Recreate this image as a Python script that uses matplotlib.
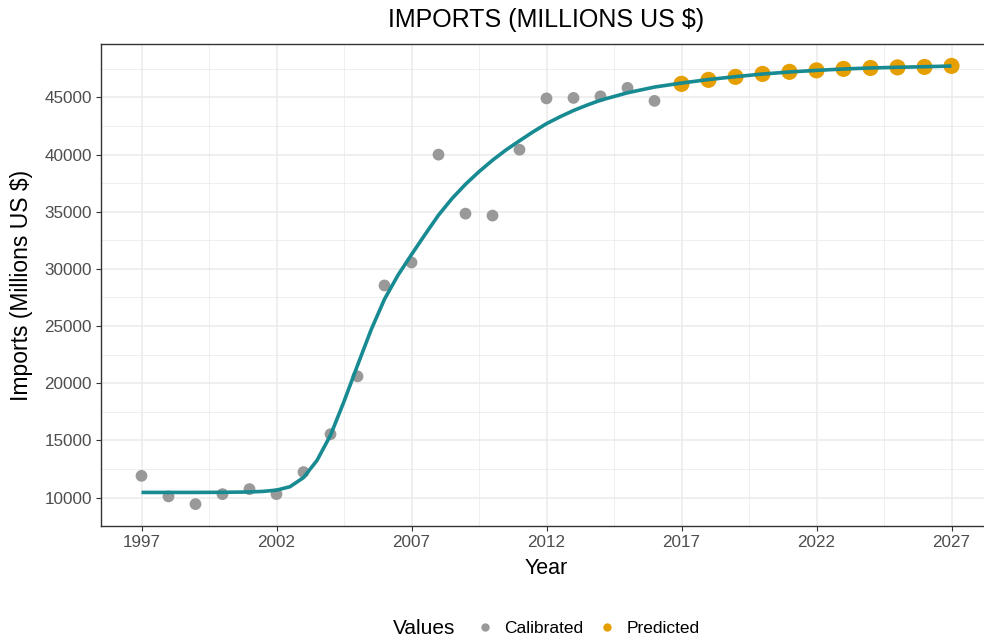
import matplotlib
matplotlib.use("Agg")
import matplotlib.pyplot as plt
from matplotlib.lines import Line2D

plt.rcParams['font.family'] = ['Liberation Sans', 'DejaVu Sans']

# Observed (calibration) data
calib_years = list(range(1997, 2017))
calib_values = [11900, 10100, 9430, 10300, 10740, 10300, 12230, 15540, 20600, 28550,
                30560, 39990, 34830, 34660, 40420, 44910, 44950, 45090, 45830, 44690]

# Model projections
pred_years = list(range(2017, 2028))
pred_values = [46180, 46530, 46790, 47050, 47230, 47360, 47490, 47570, 47620, 47660, 47750]

# Fitted model curve, half-year resolution
fit_years = [1997, 1998, 1999, 2000, 2001, 2001.5, 2002, 2002.5, 2003, 2003.5,
             2004, 2004.5, 2005, 2005.5, 2006, 2006.5, 2007, 2007.5, 2008, 2008.5,
             2009, 2009.5, 2010, 2010.5, 2011, 2011.5, 2012, 2012.5, 2013, 2013.5,
             2014, 2015, 2016, 2017, 2018, 2019, 2020, 2021, 2022, 2023,
             2024, 2025, 2026, 2027]
fit_values = [10450, 10450, 10450, 10460, 10490, 10540, 10650, 10950, 11750, 13250,
              15450, 18400, 21560, 24650, 27350, 29450, 31250, 33000, 34700, 36150,
              37400, 38500, 39500, 40400, 41200, 41980, 42700, 43300, 43850, 44320,
              44750, 45400, 45900, 46250, 46560, 46810, 47040, 47220, 47360, 47480,
              47570, 47630, 47680, 47740]

x_ticks = [1997, 2002, 2007, 2012, 2017, 2022, 2027]
y_ticks = [10000, 15000, 20000, 25000, 30000, 35000, 40000, 45000]

GREY = '#999999'
ORANGE = '#E69F00'
TEAL = '#178A92'
GRID = '#EBEBEB'
DARK = '#333333'

fig = plt.figure(figsize=(9.84, 6.43), dpi=100)
ax = fig.add_axes([101 / 984, 1 - 526 / 643, 891 / 984, 482 / 643])

ax.scatter(calib_years, calib_values, s=72, color=GREY, edgecolor='none', zorder=3)
ax.scatter(pred_years, pred_values, s=135, color=ORANGE, edgecolor='none', zorder=3)
ax.plot(fit_years, fit_values, color=TEAL, lw=2.6, solid_capstyle='butt',
        solid_joinstyle='round', zorder=4)

ax.set_xticks(x_ticks)
ax.set_xticklabels([str(t) for t in x_ticks])
ax.set_yticks(y_ticks)
ax.set_yticklabels([str(t) for t in y_ticks])
ax.set_xticks([t + 2.5 for t in x_ticks[:-1]] + [1994.5], minor=True)
ax.set_yticks([t + 2500 for t in y_ticks] + [7500], minor=True)

# Axis limits with 5% padding on each side
xr = 2027 - 1997
ax.set_xlim(1997 - 0.05 * xr, 2027 + 0.05 * xr)
ymin = min(calib_values + pred_values + fit_values)
ymax = max(calib_values + pred_values + fit_values)
yr = ymax - ymin
ax.set_ylim(ymin - 0.05 * yr, ymax + 0.05 * yr)

ax.grid(which='major', color=GRID, lw=1.1, zorder=0)
ax.grid(which='minor', color=GRID, lw=0.55, zorder=0)
ax.set_axisbelow(True)

ax.tick_params(which='major', length=3.5, width=0.8, color=DARK,
               labelsize=12.3, labelcolor='#4D4D4D', pad=3)
ax.tick_params(which='minor', length=0)
for sp in ax.spines.values():
    sp.set_color(DARK)
    sp.set_linewidth(1.0)

ax.set_xlabel('Year', fontsize=15.5, labelpad=6)
ax.set_ylabel('Imports (Millions US $)', fontsize=16.5, labelpad=8)
ax.set_title('IMPORTS (MILLIONS US $)', fontsize=18, pad=12)

# Legend along the bottom
fig.text(424 / 984, 1 - 629 / 643, 'Values', fontsize=15, ha='center', va='center')
handles = [Line2D([], [], ls='none', marker='o', ms=6, color=GREY, mec='none'),
           Line2D([], [], ls='none', marker='o', ms=6, color=ORANGE, mec='none')]
fig.legend(handles, ['Calibrated', 'Predicted'], ncol=2, frameon=False,
           loc='center', bbox_to_anchor=(588 / 984, 1 - 628 / 643),
           fontsize=12.5, handlelength=1.0, handletextpad=0.6, columnspacing=0.9)

fig.savefig('out.png', dpi=100)
